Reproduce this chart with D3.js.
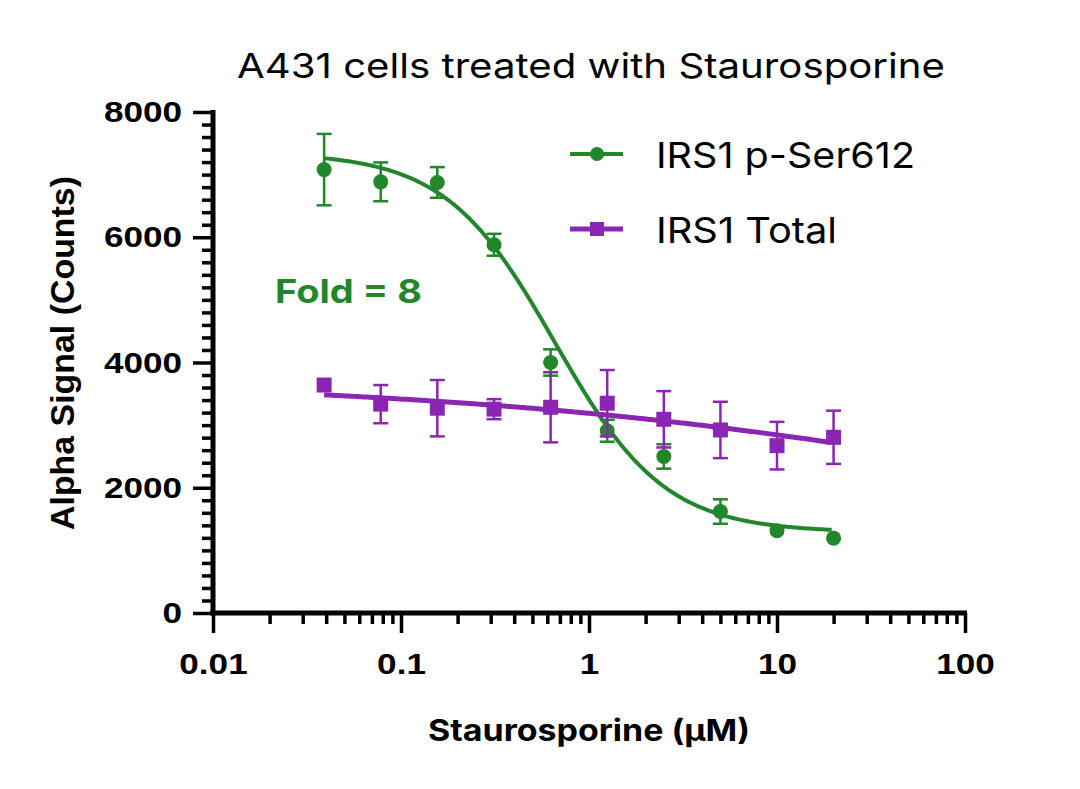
<!DOCTYPE html>
<html><head><meta charset="utf-8">
<script src="https://cdn.jsdelivr.net/npm/d3@7"></script>
<style>html,body{margin:0;padding:0;background:#fff;}svg{display:block;}</style>
</head><body>
<svg id="chart" width="1080" height="789"></svg>
<script>
// ---- data ----
const concentrations = [0.039, 0.078, 0.156, 0.3125, 0.625, 1.25, 2.5, 5, 10, 20];
const pSerMean = [7080, 6885, 6875, 5880, 4000, 2910, 2500, 1620, 1315, 1195];
const pSerSD   = [570, 310, 245, 175, 210, 175, 195, 195, 0, 0];
const totalMean = [3640, 3335, 3270, 3255, 3285, 3350, 3093, 2923, 2672, 2806];
const totalSD   = [0, 305, 450, 160, 560, 530, 450, 450, 380, 425];
// fitted 4PL parameters (top, bottom, EC50, hill)
const pSerFit = [7350, 1290, 0.659, 1.49];
const totalFit = [3750, 0, 860, 0.257];
const seriesNames = ["IRS1 p-Ser612", "IRS1 Total"];
const xTickValues = [0.01, 0.1, 1, 10, 100];
const xTickLabels = ["0.01", "0.1", "1", "10", "100"];
const yTickValues = [0, 2000, 4000, 6000, 8000];
const titleText = "A431 cells treated with Staurosporine";
const xLabel = "Staurosporine (µM)";
const yLabel = "Alpha Signal (Counts)";
const foldText = "Fold = 8";

const GREEN = "#22862b", PURPLE = "#8a26b2";
const svg = d3.select("#chart");
const x = d3.scaleLog().domain([0.01, 100]).range([213, 965]);
const y = d3.scaleLinear().domain([0, 8000]).range([613, 112]);
const sansText = "Inter, 'Noto Sans', sans-serif";
const boldText = "'Liberation Sans', Arial, sans-serif";

// axes
const yMinor = d3.range(0, 8001, 200).filter(v => v % 2000 !== 0);
const yAxisMinor = d3.axisLeft(y).tickValues(yMinor).tickSize(11).tickFormat("");
const yAxis = d3.axisLeft(y).tickValues(yTickValues).tickSize(20).tickPadding(11).tickFormat(d3.format("d"));
const xMinor = [];
for (let e = -2; e < 2; e++) for (let k = 2; k <= 9; k++) xMinor.push(k * Math.pow(10, e));
const xAxisMinor = d3.axisBottom(x).tickValues(xMinor).tickSize(11).tickFormat("");
const xAxis = d3.axisBottom(x).tickValues(xTickValues).tickSize(20).tickPadding(20)
  .tickFormat((d, i) => xTickLabels[i]);

function styleAxis(g) {
  g.select(".domain").remove();
  g.selectAll(".tick line").attr("stroke", "#000").attr("stroke-width", 3.5);
  g.selectAll(".tick text").attr("fill", "#000").style("font-family", boldText)
    .style("font-weight", "bold").style("font-size", "30px")
    .each(function () {
      const len = this.getComputedTextLength();
      if (len > 0) d3.select(this).attr("textLength", len * 1.17).attr("lengthAdjust", "spacingAndGlyphs");
    });
}
svg.append("g").attr("transform", `translate(${x.range()[0]},0)`).call(yAxisMinor).call(styleAxis);
svg.append("g").attr("transform", `translate(${x.range()[0]},0)`).call(yAxis).call(styleAxis);
svg.append("g").attr("transform", `translate(0,${y(0)})`).call(xAxisMinor).call(styleAxis);
svg.append("g").attr("transform", `translate(0,${y(0)})`).call(xAxis).call(styleAxis);
// axis lines
svg.append("line").attr("x1", x.range()[0]).attr("x2", x.range()[0])
  .attr("y1", y(8000) - 2).attr("y2", y(0) + 2.5).attr("stroke", "#000").attr("stroke-width", 5);
svg.append("line").attr("x1", x.range()[0] - 2.5).attr("x2", x.range()[1] + 2)
  .attr("y1", y(0)).attr("y2", y(0)).attr("stroke", "#000").attr("stroke-width", 5);

// fit curves
function fourPL(p) { return c => p[1] + (p[0] - p[1]) / (1 + Math.pow(c / p[2], p[3])); }
const logC = d3.range(Math.log10(concentrations[0]), Math.log10(concentrations[concentrations.length - 1]) + 1e-9, 0.01);
const lineGen = f => d3.line().x(l => x(Math.pow(10, l))).y(l => y(f(Math.pow(10, l))));

function drawSeries(means, sds, fit, color, shape, curveWidth) {
  const g = svg.append("g");
  g.append("path").attr("d", lineGen(fourPL(fit))(logC)).attr("fill", "none")
    .attr("stroke", color).attr("stroke-width", curveWidth);
  const data = concentrations.map((c, i) => ({ c, m: means[i], s: sds[i] }));
  const eb = g.selectAll(".eb").data(data.filter(d => d.s > 0)).join("g");
  eb.append("line").attr("x1", d => x(d.c)).attr("x2", d => x(d.c))
    .attr("y1", d => y(d.m + d.s)).attr("y2", d => y(d.m - d.s)).attr("stroke", color).attr("stroke-width", 2.5);
  [1, -1].forEach(sg => eb.append("line").attr("x1", d => x(d.c) - 7.5).attr("x2", d => x(d.c) + 7.5)
    .attr("y1", d => y(d.m + sg * d.s)).attr("y2", d => y(d.m + sg * d.s)).attr("stroke", color).attr("stroke-width", 2.5));
  const sym = d3.symbol().type(shape === "circle" ? d3.symbolCircle : d3.symbolSquare)
    .size(shape === "circle" ? Math.PI * 7.5 * 7.5 : 15 * 15);
  g.selectAll(".pt").data(data).join("path").attr("d", sym)
    .attr("transform", d => `translate(${x(d.c)},${y(d.m)})`).attr("fill", color);
}
drawSeries(pSerMean, pSerSD, pSerFit, GREEN, "circle", 4);
drawSeries(totalMean, totalSD, totalFit, PURPLE, "square", 5);

// legend
const legend = [
  { name: seriesNames[0], color: GREEN, shape: "circle", y: 154, w: 259 },
  { name: seriesNames[1], color: PURPLE, shape: "square", y: 229, w: 181 }
];
legend.forEach(l => {
  svg.append("line").attr("x1", 570).attr("x2", 623).attr("y1", l.y).attr("y2", l.y)
    .attr("stroke", l.color).attr("stroke-width", l.shape === "circle" ? 4 : 5);
  svg.append("path").attr("d", d3.symbol().type(l.shape === "circle" ? d3.symbolCircle : d3.symbolSquare)
    .size(l.shape === "circle" ? Math.PI * 7 * 7 : 14 * 14)())
    .attr("transform", `translate(597,${l.y})`).attr("fill", l.color);
  svg.append("text").attr("x", 656).attr("y", l.y + 14).attr("fill", "#000")
    .style("font-family", sansText).style("font-size", "36px")
    .attr("textLength", l.w).attr("lengthAdjust", "spacingAndGlyphs").text(l.name);
});

// texts
svg.append("text").attr("x", 237).attr("y", 78).style("font-family", sansText).style("font-size", "34px")
  .attr("textLength", 708).attr("lengthAdjust", "spacingAndGlyphs").attr("fill", "#000").text(titleText);
svg.append("text").attr("x", 275).attr("y", 303).style("font-family", sansText).style("font-weight", "bold")
  .style("font-size", "33px").attr("textLength", 147).attr("lengthAdjust", "spacingAndGlyphs")
  .attr("fill", GREEN).text(foldText);
svg.append("text").attr("x", 428).attr("y", 741).style("font-family", sansText).style("font-weight", "bold")
  .style("font-size", "30px").attr("textLength", 322).attr("lengthAdjust", "spacingAndGlyphs")
  .attr("fill", "#000").text(xLabel);
svg.append("text").attr("transform", "translate(74,530) rotate(-90)").style("font-family", boldText)
  .style("font-weight", "bold").style("font-size", "34px").attr("textLength", 354)
  .attr("lengthAdjust", "spacingAndGlyphs").attr("fill", "#000").text(yLabel);
</script>
</body></html>
